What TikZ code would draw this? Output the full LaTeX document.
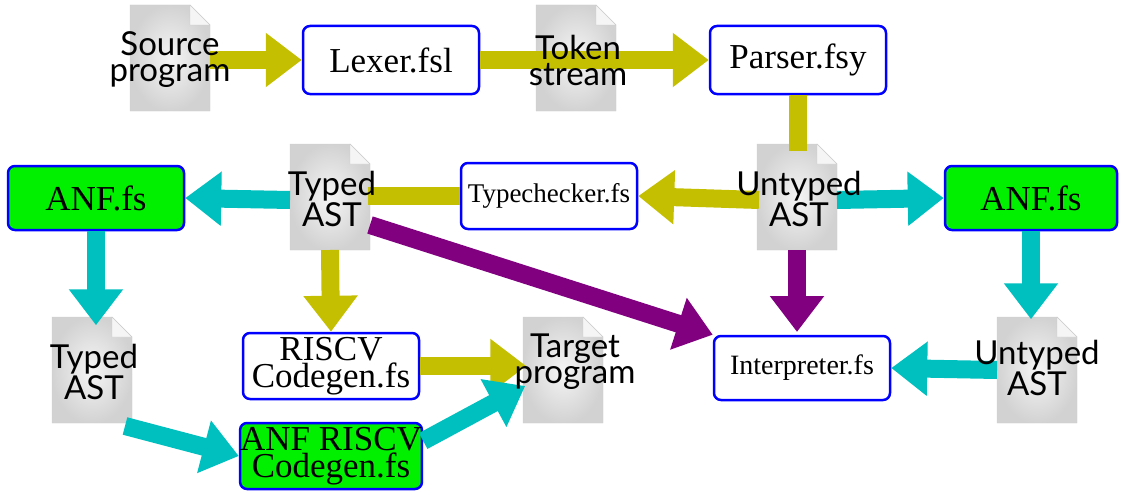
\documentclass[tikz,border=0pt]{standalone}
\usepackage{fontspec}
\setmainfont{Liberation Serif}
\newfontfamily\docfont{Lato}
\usetikzlibrary{arrows.meta}
\definecolor{ol}{HTML}{C4BF00}
\definecolor{cy}{HTML}{00BFBF}
\definecolor{pu}{HTML}{800080}
\definecolor{gr}{HTML}{00F000}
\begin{document}
\begin{tikzpicture}[x=1pt,y=-1pt,
  box/.style={draw=blue,line width=2.5pt,rounded corners=7pt,fill=white,minimum width=176pt,inner sep=0pt,font=\fontsize{35}{27}\selectfont,align=center},
  gbox/.style={box,fill=gr},
  lbl/.style={font=\docfont\fontsize{33}{26}\selectfont,align=center,inner sep=0pt},
  ar/.style={line width=18pt,-{Triangle[length=36pt,width=52pt]}},
  bar/.style={line width=18pt}]
\useasboundingbox (0,0) rectangle (1130,495);
\newcommand{\doc}[2]{%
  \path[inner color=gray!8,outer color=gray!35,draw=gray!40] (#1-40,#2-53) -- (#1+20,#2-53) -- (#1+40,#2-33) -- (#1+40,#2+53) -- (#1-40,#2+53) -- cycle;
  \path[fill=gray!8,draw=gray!40] (#1+20,#2-53) -- (#1+20,#2-33) -- (#1+40,#2-33) -- cycle;}
% boxes
\node[box,minimum height=68pt] (lex) at (391,60) {Lexer.fsl};
\node[box,minimum height=68pt] (par) at (798,60) {Parser.fsy};
\node[box,minimum height=66pt,font=\fontsize{27}{22}\selectfont] (tc) at (549,196) {Typechecker.fs};
\node[gbox,minimum height=64pt] (anfl) at (96,198) {ANF.fs};
\node[gbox,minimum height=64pt,minimum width=172pt] (anfr) at (1031,198) {ANF.fs};
\node[box,minimum height=66pt] (risc) at (331,366) {RISCV\\Codegen.fs};
\node[gbox,minimum height=66pt] (anfrisc) at (331,456) {ANF RISCV\\Codegen.fs};
\node[box,minimum height=64pt,font=\fontsize{28}{22}\selectfont] (int) at (802,368) {Interpreter.fs};
% docs
\doc{170}{58}\doc{576}{58}\doc{330}{197}\doc{797}{197}\doc{92}{370}\doc{563}{370}\doc{1037}{370}
\coordinate (src) at (170,58);
\coordinate (tok) at (576,58);
\coordinate (tast) at (330,197);
\coordinate (uast) at (797,197);
\coordinate (tast2) at (92,370);
\coordinate (tgt) at (563,370);
\coordinate (uast2) at (1037,370);
% arrows
\draw[ol,ar] (src)++(40,2) -- (lex.west);
\draw[ol,ar] (lex.east) -- (par.west);
\draw[ol,bar] (par.south) -- ++(0,56);
\draw[ol,ar] (uast)++(-38,3) -- (tc.east);
\draw[ol,bar] (tc.west) -- ++(-92,0);
\draw[ol,ar] (tast)++(0,53) -- (risc.north);
\draw[ol,ar] (risc.east) -- ++(106,0);
\draw[cy,ar] (tast)++(-40,3) -- (anfl.east);
\draw[cy,ar] (anfl.south) -- ++(0,94);
\draw[cy,ar] (tast2)++(33,56) -- (anfrisc.west);
\draw[cy,ar] (anfrisc.east)++(0,-15) -- ++(102,-55);
\draw[cy,ar] (uast)++(40,3) -- (anfr.west);
\draw[cy,ar] (anfr.south) -- ++(0,88);
\draw[cy,ar] (uast2)++(-40,0) -- (int.east);
\draw[pu,ar] (tast)++(40,28) -- (int.north west);
\draw[pu,ar] (uast)++(0,53) -- ++(0,82);
% doc labels
\node[lbl] at (170,60) {Source\\program};
\node[lbl] at (578,60) {Token\\stream};
\node[lbl] at (332,199) {Typed\\AST};
\node[lbl] at (799,199) {Untyped\\AST};
\node[lbl] at (94,372) {Typed\\AST};
\node[lbl] at (575,362) {Target\\program};
\node[lbl] at (1037,368) {Untyped\\AST};
\end{tikzpicture}
\end{document}
